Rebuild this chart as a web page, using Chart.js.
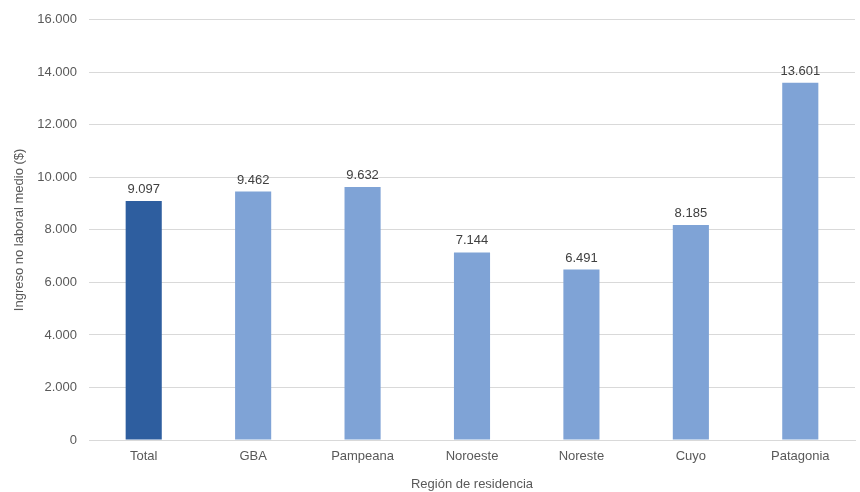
<!DOCTYPE html>
<html>
<head>
<meta charset="utf-8">
<script src="https://cdn.jsdelivr.net/npm/chart.js@4"></script>
<style>
  html, body { margin: 0; padding: 0; background: #fff; }
  #wrap { width: 860px; height: 492px; }
</style>
</head>
<body>
<div id="wrap"><canvas id="chart" width="860" height="492"></canvas></div>
<script>
// Data
const regions = ["Total", "GBA", "Pampeana", "Noroeste", "Noreste", "Cuyo", "Patagonia"];
const ingresos = [9097, 9462, 9632, 7144, 6491, 8185, 13601];
const barColors = ["#2E5E9F", "#7FA3D6", "#7FA3D6", "#7FA3D6", "#7FA3D6", "#7FA3D6", "#7FA3D6"];
const yMax = 16000;
const yStep = 2000;

const textGray = "#595959";
const font = "'Liberation Sans', Arial, sans-serif";

// format with dot as thousands separator
function fmt(v) {
  return String(Math.round(v)).replace(/\B(?=(\d{3})+(?!\d))/g, ".");
}

// Draw value labels above each bar
const valueLabels = {
  id: "valueLabels",
  afterDatasetsDraw(chart) {
    const ctx = chart.ctx;
    const meta = chart.getDatasetMeta(0);
    ctx.save();
    ctx.fillStyle = "#404040";
    ctx.font = "13px " + font;
    ctx.textAlign = "center";
    ctx.textBaseline = "bottom";
    meta.data.forEach((bar, i) => {
      ctx.fillText(fmt(ingresos[i]), bar.x, bar.y - 5);
    });
    ctx.restore();
  }
};

const ctx = document.getElementById("chart").getContext("2d");
new Chart(ctx, {
  type: "bar",
  data: {
    labels: regions,
    datasets: [{
      data: ingresos,
      backgroundColor: barColors,
      barPercentage: 0.33,
      categoryPercentage: 1
    }]
  },
  options: {
    responsive: false,
    animation: false,
    layout: { padding: { top: 18, right: 5, left: 12, bottom: 0 } },
    plugins: {
      legend: { display: false },
      tooltip: { enabled: false }
    },
    scales: {
      x: {
        grid: { display: false, drawTicks: false },
        border: { color: "#D9D9D9", width: 1 },
        ticks: { color: textGray, font: { family: font, size: 13 }, padding: 9 },
        title: {
          display: true,
          text: "Región de residencia",
          color: textGray,
          font: { family: font, size: 13 },
          padding: { top: 13, bottom: 0 }
        },
        afterFit(scale) { scale.height = 52; }
      },
      y: {
        min: 0,
        max: yMax,
        grid: { color: "#D9D9D9", drawTicks: false },
        border: { display: false },
        ticks: {
          stepSize: yStep,
          color: textGray,
          font: { family: font, size: 13 },
          padding: 12,
          callback: v => fmt(v)
        },
        title: {
          display: true,
          text: "Ingreso no laboral medio ($)",
          color: textGray,
          font: { family: font, size: 13 },
          padding: { top: 0, bottom: 4 }
        },
        afterFit(scale) { scale.width = 77; }
      }
    }
  },
  plugins: [valueLabels]
});
</script>
</body>
</html>
